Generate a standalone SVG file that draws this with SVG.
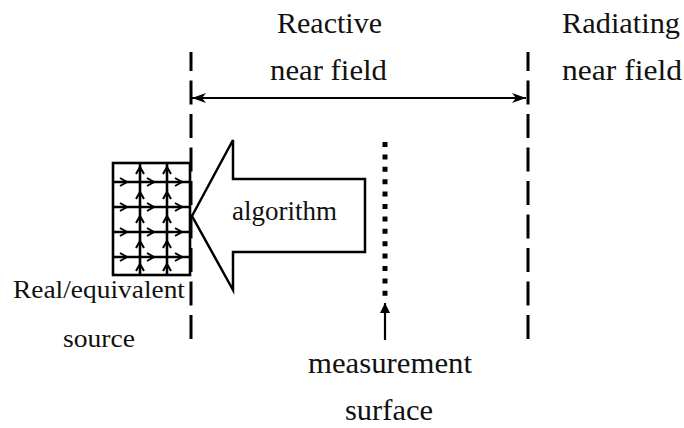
<svg xmlns="http://www.w3.org/2000/svg" width="684" height="428" viewBox="0 0 684 428">
<style>
text{font-family:"Liberation Serif","Times New Roman",serif;fill:#111}
.lbl{font-size:29px}
.dash{stroke:#000;stroke-width:3;stroke-dasharray:24 9.5;stroke-dashoffset:5;fill:none}
.grid{stroke:#000;stroke-width:2.6;fill:none}
.ah{stroke:#000;stroke-width:2;fill:none}
</style>
<defs>
<marker id="dimArrow" viewBox="0 0 14 10" refX="14" refY="5" markerWidth="14" markerHeight="10" markerUnits="userSpaceOnUse" orient="auto-start-reverse">
<path d="M0,0 L14,5 L0,10 L4,5 Z" fill="#000"/>
</marker>
<marker id="solidArrow" viewBox="0 0 10 10" refX="10" refY="5" markerWidth="10" markerHeight="10" markerUnits="userSpaceOnUse" orient="auto">
<path d="M0,0 L10,5 L0,10 Z" fill="#000"/>
</marker>
<path id="ar" d="M-7,-4 L0,0 L-7,4" class="ah"/>
<path id="au" d="M-4,7 L0,0 L4,7" class="ah"/>
</defs>

<g id="boundaries">
<line x1="191" y1="52" x2="191" y2="340" class="dash"/>
<line x1="528" y1="52" x2="528" y2="340" class="dash"/>
</g>

<g id="connectors">
<line x1="192" y1="98" x2="526" y2="98" stroke="#000" stroke-width="1.8" marker-start="url(#dimArrow)" marker-end="url(#dimArrow)"/>
<line x1="385" y1="340" x2="385" y2="303" stroke="#000" stroke-width="2.2" marker-end="url(#solidArrow)"/>
</g>

<g id="source">
<rect x="113" y="163" width="77" height="112" class="grid"/>
<line x1="140" y1="163" x2="140" y2="275" class="grid"/>
<line x1="167" y1="163" x2="167" y2="275" class="grid"/>
<line x1="113" y1="182" x2="190" y2="182" class="grid"/>
<line x1="113" y1="207" x2="190" y2="207" class="grid"/>
<line x1="113" y1="232" x2="190" y2="232" class="grid"/>
<line x1="113" y1="257" x2="190" y2="257" class="grid"/>
<g>
<use href="#ar" x="127" y="182"/><use href="#ar" x="154" y="182"/><use href="#ar" x="182" y="182"/>
<use href="#ar" x="127" y="207"/><use href="#ar" x="154" y="207"/><use href="#ar" x="182" y="207"/>
<use href="#ar" x="127" y="232"/><use href="#ar" x="154" y="232"/><use href="#ar" x="182" y="232"/>
<use href="#ar" x="127" y="257"/><use href="#ar" x="154" y="257"/><use href="#ar" x="182" y="257"/>
<use href="#au" x="140" y="167"/><use href="#au" x="140" y="192"/><use href="#au" x="140" y="216"/><use href="#au" x="140" y="241"/><use href="#au" x="140" y="264"/>
<use href="#au" x="167" y="167"/><use href="#au" x="167" y="192"/><use href="#au" x="167" y="216"/><use href="#au" x="167" y="241"/><use href="#au" x="167" y="264"/>
</g>
<text x="13" y="298" font-size="26" textLength="172" lengthAdjust="spacingAndGlyphs">Real/equivalent</text>
<text x="63" y="347" font-size="26" textLength="72" lengthAdjust="spacingAndGlyphs">source</text>
</g>

<g id="algorithm">
<polygon points="192,216 233,140 233,179 365,179 365,252 233,252 233,290" fill="#fff" stroke="#000" stroke-width="2.5" stroke-linejoin="miter"/>
<text x="232" y="220" font-size="27" textLength="105" lengthAdjust="spacingAndGlyphs">algorithm</text>
</g>

<g id="measurement">
<line x1="385" y1="142" x2="385" y2="297" stroke="#000" stroke-width="5" stroke-dasharray="5 7.4"/>
<text x="308" y="373" class="lbl" textLength="164" lengthAdjust="spacingAndGlyphs">measurement</text>
<text x="345" y="420" class="lbl" textLength="88" lengthAdjust="spacingAndGlyphs">surface</text>
</g>

<g id="reactive">
<text x="277" y="33" class="lbl" textLength="105" lengthAdjust="spacingAndGlyphs">Reactive</text>
<text x="270" y="80" class="lbl" textLength="117" lengthAdjust="spacingAndGlyphs">near field</text>
</g>

<g id="radiating">
<text x="562" y="33" class="lbl" textLength="118" lengthAdjust="spacingAndGlyphs">Radiating</text>
<text x="562" y="80" class="lbl" textLength="120" lengthAdjust="spacingAndGlyphs">near field</text>
</g>
</svg>
